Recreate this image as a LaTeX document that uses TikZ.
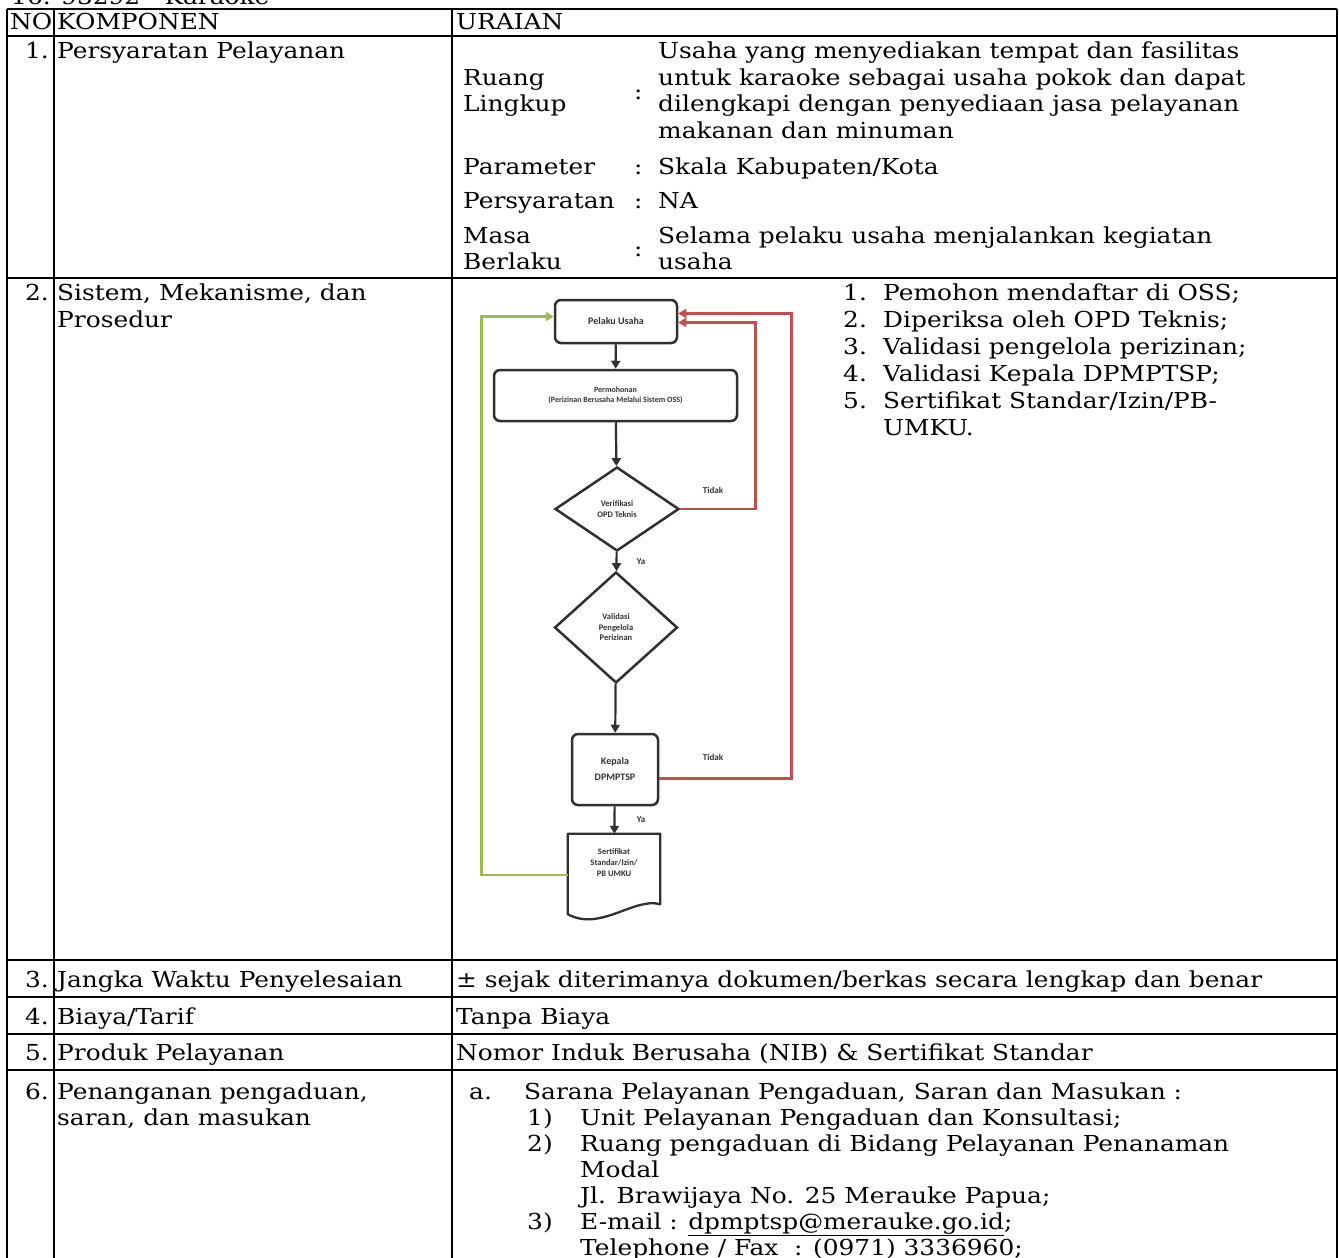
\documentclass[tikz,border=0pt]{standalone}
\usepackage{fontspec}
\setmainfont{DejaVu Serif}[FakeStretch=1.13]
\newfontfamily\flowfont{Carlito}
\usetikzlibrary{arrows.meta,shapes.geometric}

\definecolor{backred}{HTML}{C0504D}
\definecolor{backgreen}{HTML}{9BBB59}
\definecolor{boxline}{HTML}{303030}

\tikzset{
  cell/.style={anchor=base west, inner sep=0pt, font=\fontsize{22}{26}\selectfont},
  rownum/.style={anchor=base east, inner sep=0pt, font=\fontsize{22}{26}\selectfont},
  rule/.style={line width=2.6pt, black},
  fbox/.style={draw=boxline, line width=2.5pt, rounded corners=6pt, fill=white,
    align=center, inner sep=1pt, text=black!80,
    font=\flowfont\bfseries\fontsize{8.5}{10}\selectfont},
  decision/.style={diamond, draw=boxline, line width=2.5pt, fill=white,
    align=center, inner sep=0pt, text=black!80,
    font=\flowfont\bfseries\fontsize{8.5}{10.5}\selectfont},
  flowlabel/.style={inner sep=0pt, text=black!80,
    font=\flowfont\bfseries\fontsize{9}{10}\selectfont},
  flow/.style={line width=2.2pt, boxline, -{Triangle[length=8pt,width=9pt]}},
  redback/.style={line width=2.8pt, backred, line join=miter,
    -{Triangle[length=8pt,width=9pt]}},
  greenback/.style={line width=2.8pt, backgreen, line join=miter,
    -{Triangle[length=8pt,width=9pt]}}
}

\begin{document}
\begin{tikzpicture}[x=1pt,y=-1pt]
\useasboundingbox (0,0) rectangle (1339,1258);
\fill[white] (0,0) rectangle (1339,1258);
\clip (0,0) rectangle (1339,1258);

% title line above the table
\node[cell] (title) at (11,5) {16. 93292 - Karaoke};

% table rules
\draw[rule] (7,9) -- (1337,9);
\draw[rule] (7,36) -- (1337,36);
\draw[rule] (7,278) -- (1337,278);
\draw[rule] (7,960) -- (1337,960);
\draw[rule] (7,997) -- (1337,997);
\draw[rule] (7,1034) -- (1337,1034);
\draw[rule] (7,1070) -- (1337,1070);
\draw[rule] (7,9) -- (7,1262);
\draw[rule] (54,9) -- (54,1262);
\draw[rule] (452,9) -- (452,1262);
\draw[rule] (1337,9) -- (1337,1262);

% header
\node[cell] (hno) at (10,29) {NO};
\node[cell] (hkomp) at (57,29) {KOMPONEN};
\node[cell] (hurai) at (456,29) {URAIAN};

% row 1
\node[rownum] (n1) at (49,58) {1.};
\node[cell] (k1) at (57,58) {Persyaratan Pelayanan};
\node[cell] (rl1) at (463,85) {Ruang};
\node[cell] (rl2) at (463,111) {Lingkup};
\node[cell] (rlc) at (634,99) {:};
\node[cell] (rlt1) at (658,58) {Usaha yang menyediakan tempat dan fasilitas};
\node[cell] (rlt2) at (658,85) {untuk karaoke sebagai usaha pokok dan dapat};
\node[cell] (rlt3) at (658,111) {dilengkapi dengan penyediaan jasa pelayanan};
\node[cell] (rlt4) at (658,138) {makanan dan minuman};
\node[cell] (pm) at (463,174) {Parameter};
\node[cell] (pmc) at (634,174) {:};
\node[cell] (pmt) at (658,174) {Skala Kabupaten/Kota};
\node[cell] (ps) at (463,208) {Persyaratan};
\node[cell] (psc) at (634,208) {:};
\node[cell] (pst) at (658,208) {NA};
\node[cell] (mb1) at (463,243) {Masa};
\node[cell] (mb2) at (463,269) {Berlaku};
\node[cell] (mbc) at (634,256) {:};
\node[cell] (mbt1) at (658,243) {Selama pelaku usaha menjalankan kegiatan};
\node[cell] (mbt2) at (658,269) {usaha};

% row 2
\node[rownum] (n2) at (49,300) {2.};
\node[cell] (k2a) at (57,300) {Sistem, Mekanisme, dan};
\node[cell] (k2b) at (57,327) {Prosedur};
\node[cell] (l1n) at (843,300) {1.};
\node[cell] (l1) at (883,300) {Pemohon mendaftar di OSS;};
\node[cell] (l2n) at (843,327) {2.};
\node[cell] (l2) at (883,327) {Diperiksa oleh OPD Teknis;};
\node[cell] (l3n) at (843,354) {3.};
\node[cell] (l3) at (883,354) {Validasi pengelola perizinan;};
\node[cell] (l4n) at (843,381) {4.};
\node[cell] (l4) at (883,381) {Validasi Kepala DPMPTSP;};
\node[cell] (l5n) at (843,408) {5.};
\node[cell] (l5) at (883,408) {Sertifikat Standar/Izin/PB-};
\node[cell] (l5b) at (883,435) {UMKU.};

% flowchart
\node[fbox, minimum width=122pt, minimum height=43pt] (pelaku) at (616,321.5)
  {\fontsize{10}{12}\selectfont Pelaku Usaha};
\node[fbox, minimum width=243pt, minimum height=51pt] (mohon) at (615.5,395.5)
  {\fontsize{8}{10}\selectfont Permohonan\\\fontsize{8}{10}\selectfont(Perizinan Berusaha Melalui Sistem OSS)};
\node[decision, minimum width=124pt, minimum height=84pt] (verif) at (617,509)
  {Verifikasi\\OPD Teknis};
\node[decision, minimum width=123pt, minimum height=111pt] (valid) at (616,627.5)
  {Validasi\\Pengelola\\Perizinan};
\node[fbox, minimum width=86pt, minimum height=71pt] (kepala) at (615,769.5)
  {\fontsize{10}{12}\selectfont Kepala\\[6pt]\fontsize{10}{12}\selectfont DPMPTSP};
\node[inner sep=0pt, minimum width=92pt, minimum height=76pt, align=center,
  text=black!80, font=\flowfont\bfseries\fontsize{8.5}{11}\selectfont] (doc) at (614,872)
  {Sertifikat\\Standar/Izin/\\PB UMKU\\[8pt]};
\draw[draw=boxline, line width=2.3pt, line join=round]
  (doc.north west) -- (doc.north east) -- ([yshift=6pt]doc.south east)
  .. controls (634,897) and (600,932) .. ([yshift=-4pt]doc.south west) -- cycle;

\draw[flow] (pelaku) -- (mohon);
\draw[flow] (mohon) -- (verif);
\draw[flow] (verif) -- (valid);
\draw[flow] (valid) -- (kepala);
\draw[flow] (kepala) -- (doc);

\draw[redback] (verif.east) -- ++(75,0) |- ([yshift=-1pt]pelaku.east);
\draw[redback] ([yshift=-9pt]kepala.east) -- ++(132,0) |- ([yshift=8pt]pelaku.east);
\draw[greenback] ([yshift=-3pt]doc.west) -- ++(-86,0) |- ([yshift=5pt]pelaku.west);

\node[flowlabel] (tidak1) at (713,490) {Tidak};
\node[flowlabel] (ya1) at (641,562) {Ya};
\node[flowlabel] (tidak2) at (713,757) {Tidak};
\node[flowlabel] (ya2) at (641,820) {Ya};

% row 3
\node[rownum] (n3) at (49,987) {3.};
\node[cell] (k3) at (57,987) {Jangka Waktu Penyelesaian};
\node[cell] (u3) at (456,987) {± sejak diterimanya dokumen/berkas secara lengkap dan benar};

% row 4
\node[rownum] (n4) at (49,1024) {4.};
\node[cell] (k4) at (57,1024) {Biaya/Tarif};
\node[cell] (u4) at (456,1024) {Tanpa Biaya};

% row 5
\node[rownum] (n5) at (49,1060) {5.};
\node[cell] (k5) at (57,1060) {Produk Pelayanan};
\node[cell] (u5) at (456,1060) {Nomor Induk Berusaha (NIB) \& Sertifikat Standar};

% row 6
\node[rownum] (n6) at (49,1099) {6.};
\node[cell] (k6a) at (57,1099) {Penanganan pengaduan,};
\node[cell] (k6b) at (57,1125) {saran, dan masukan};
\node[cell] (a6n) at (469,1099) {a.};
\node[cell] (a6) at (524,1099) {Sarana Pelayanan Pengaduan, Saran dan Masukan :};
\node[cell] (s1n) at (527,1125) {1)};
\node[cell] (s1) at (580,1125) {Unit Pelayanan Pengaduan dan Konsultasi;};
\node[cell] (s2n) at (527,1151) {2)};
\node[cell] (s2) at (580,1151) {Ruang pengaduan di Bidang Pelayanan Penanaman};
\node[cell] (s2b) at (580,1177) {Modal};
\node[cell] (s2c) at (580,1203) {Jl. Brawijaya No. 25 Merauke Papua;};
\node[cell] (s3n) at (527,1229) {3)};
\node[cell] (s3) at (580,1229) {E-mail : \underline{dpmptsp@merauke.go.id};};
\node[cell] (s3b) at (580,1255) {Telephone / Fax~~: (0971) 3336960;};
\end{tikzpicture}
\end{document}
